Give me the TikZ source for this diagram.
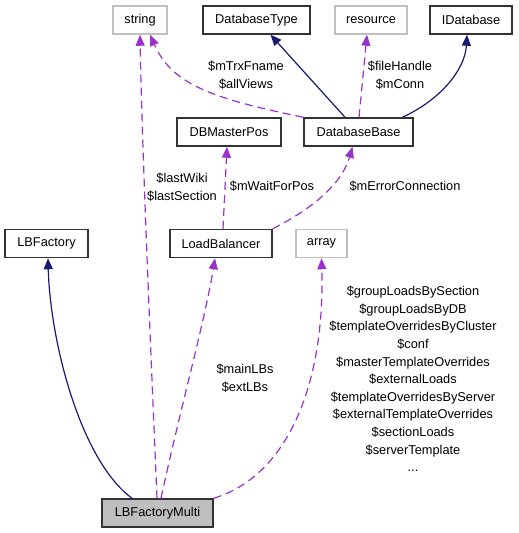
\documentclass[tikz,border=0pt]{standalone}
\usepackage{fontspec}
\setmainfont{Liberation Sans}
\usetikzlibrary{arrows.meta}
\definecolor{navy}{RGB}{25,25,112}
\definecolor{orchid}{RGB}{154,50,205}
\definecolor{boxgray}{RGB}{191,191,191}

\begin{document}
\begin{tikzpicture}[x=1pt, y=-1pt,
  every node/.style={font=\fontsize{12.8}{17.6}\selectfont},
  cls/.style={draw=black!80, line width=1.5pt, minimum height=28pt, inner sep=0pt},
  ext/.style={draw=boxgray, line width=1.5pt, minimum height=28pt, inner sep=0pt},
  inherit/.style={navy, line width=1.2pt, -{Triangle[length=11pt,width=9pt]}},
  usage/.style={orchid, line width=1.2pt, dash pattern=on 8pt off 5pt,
                -{Triangle[length=11pt,width=9pt]}},
  lbl/.style={align=center, inner sep=0pt}]

\useasboundingbox (0,0) rectangle (519,533);

%---------------------------------------
% Top row
%---------------------------------------
\node[ext, minimum width=54pt]  (string)   at (140,20)    {string};
\node[cls, minimum width=107pt] (dbtype)   at (256.5,20)  {DatabaseType};
\node[ext, minimum width=72pt]  (resource) at (371,20)    {resource};
\node[cls, minimum width=82pt]  (idb)      at (471,20)    {IDatabase};

%---------------------------------------
% Second row
%---------------------------------------
\node[cls, minimum width=104pt] (dbmp) at (229,132)   {DBMasterPos};
\node[cls, minimum width=109pt] (dbb)  at (358.5,132) {DatabaseBase};

%---------------------------------------
% Third row
%---------------------------------------
\node[cls, minimum width=83pt]  (lbf)   at (46.5,243.5)  {LBFactory};
\node[cls, minimum width=102pt] (lb)    at (221,243.5)   {LoadBalancer};
\node[ext, minimum width=51pt]  (array) at (321.5,243.5) {array};

%---------------------------------------
% The class itself
%---------------------------------------
\node[cls, fill=boxgray, minimum width=111pt] (multi) at (157.5,513) {LBFactoryMulti};

%---------------------------------------
% DatabaseBase edges
%---------------------------------------
\draw[usage] (dbb.north west) .. controls (210,98) and (172,84) .. ([xshift=10pt]string.south);
\draw[inherit] ([xshift=-13.5pt]dbb.north) -- ([xshift=14pt]dbtype.south);
\draw[usage] ([xshift=0.5pt]dbb.north) -- ([xshift=-4pt]resource.south);
\draw[inherit] ([xshift=44pt]dbb.north) .. controls (440,100) and (465,70) .. ([xshift=-4pt]idb.south);

\node[lbl] (mtrx)  at (246,75)  {\$mTrxFname\\\$allViews};
\node[lbl] (fileh) at (400,75)  {\$fileHandle\\\$mConn};

%---------------------------------------
% LoadBalancer edges
%---------------------------------------
\draw[usage] ([xshift=2pt]lb.north) -- ([xshift=-2pt]dbmp.south);
\draw[usage] (lb.north east) .. controls (300,215) and (340,190) .. ([xshift=-6pt]dbb.south);

\node[lbl] (mwait) at (272,186) {\$mWaitForPos};
\node[lbl] (merr)  at (405,186) {\$mErrorConnection};

%---------------------------------------
% LBFactoryMulti edges
%---------------------------------------
\draw[inherit] ([xshift=-25.5pt]multi.north) .. controls (80,460) and (50,340) .. ([xshift=1.5pt]lbf.south);
\draw[usage] ([xshift=-0.5pt]multi.north) .. controls (152,380) and (142,150) .. (string.south);
\draw[usage] ([xshift=3.5pt]multi.north) .. controls (180,410) and (205,320) .. ([xshift=-6pt]lb.south);
\draw[usage] (multi.north east) .. controls (290,475) and (325,380) .. (array.south);

\node[lbl] (lastwiki) at (182,187) {\$lastWiki\\\$lastSection};
\node[lbl] (mainlbs)  at (245,378) {\$mainLBs\\\$extLBs};
\node[lbl] (arrays)   at (413,379) {\$groupLoadsBySection\\\$groupLoadsByDB\\
  \$templateOverridesByCluster\\\$conf\\\$masterTemplateOverrides\\\$externalLoads\\
  \$templateOverridesByServer\\\$externalTemplateOverrides\\\$sectionLoads\\
  \$serverTemplate\\...};

\end{tikzpicture}
\end{document}
